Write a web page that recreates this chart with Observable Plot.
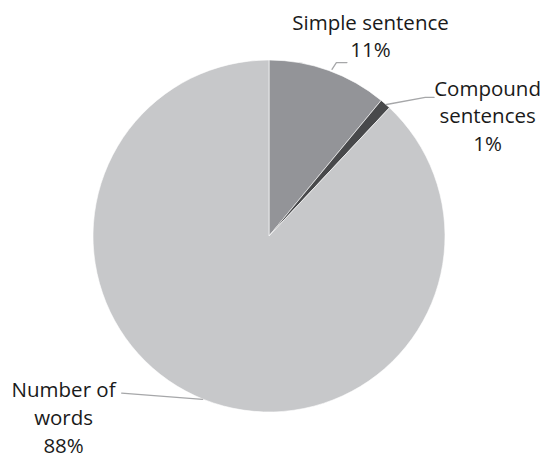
<!DOCTYPE html>
<html><head><meta charset="utf-8">
<script src="https://cdn.jsdelivr.net/npm/d3@7"></script>
<script src="https://cdn.jsdelivr.net/npm/@observablehq/plot@0.6"></script>
<style>body{margin:0;background:#fff}</style>
</head><body><div id="chart"></div>
<script>
const categories = ["Simple sentence", "Compound sentences", "Number of words"];
const values = [11, 1, 88];
const labelNames = ["Simple sentence", "Compound\nsentences", "Number of\nwords"];
const colors = ["#939498", "#48494b", "#c7c8ca"];

const W = 543, H = 461, cx = 269, cy = 236, R = 176;
const rows = categories.map((c, i) => ({category: c, value: values[i], label: labelNames[i] + "\n" + values[i] + "%"}));
const pie = d3.pie().value(d => d.value).sort(null)(rows);

// label layout (unit-circle coordinates)
const labelPos = [[0.574, 1.147], [1.239, 0.693], [-1.17, -1.02]];
const leaders = [
  [[0.355, 0.95], [0.38, 0.988], [0.44, 0.988]],
  [[0.665, 0.75], [0.885, 0.79], [0.935, 0.79]],
  [[-0.38, -0.925], [-0.84, -0.89]]
];
const leaderRows = leaders.flatMap((pts, i) => pts.map(p => ({i, x: p[0], y: p[1]})));
const labelRows = rows.map((r, i) => ({...r, x: labelPos[i][0], y: labelPos[i][1]}));

const slicesMark = (index, scales, vals, dims, context) => {
  const x0 = scales.x(0), y0 = scales.y(0);
  const r = scales.x(1) - scales.x(0);
  const arc = d3.arc().innerRadius(0).outerRadius(r);
  const g = d3.create("svg:g").attr("transform", `translate(${x0},${y0})`);
  g.selectAll("path").data(pie).join("path")
    .attr("d", arc)
    .attr("fill", (d, i) => colors[i])
    .attr("stroke", "#fff")
    .attr("stroke-width", 0.6);
  return g.node();
};

const plot = Plot.plot({
  width: W, height: H,
  marginTop: 0, marginRight: 0, marginBottom: 0, marginLeft: 0,
  x: {domain: [-cx / R, (W - cx) / R], axis: null},
  y: {domain: [-(H - cy) / R, cy / R], axis: null},
  style: {fontFamily: "'Open Sans', sans-serif", background: "#fff"},
  marks: [
    slicesMark,
    Plot.line(leaderRows, {x: "x", y: "y", z: "i", stroke: "#a6a7a9", strokeWidth: 1.3}),
    Plot.text(labelRows, {x: "x", y: "y", text: "label", fontSize: 20.5, lineHeight: 1.36, fill: "#1a1a1a", textAnchor: "middle"})
  ]
});
document.getElementById("chart").appendChild(plot);
</script>
</body></html>
